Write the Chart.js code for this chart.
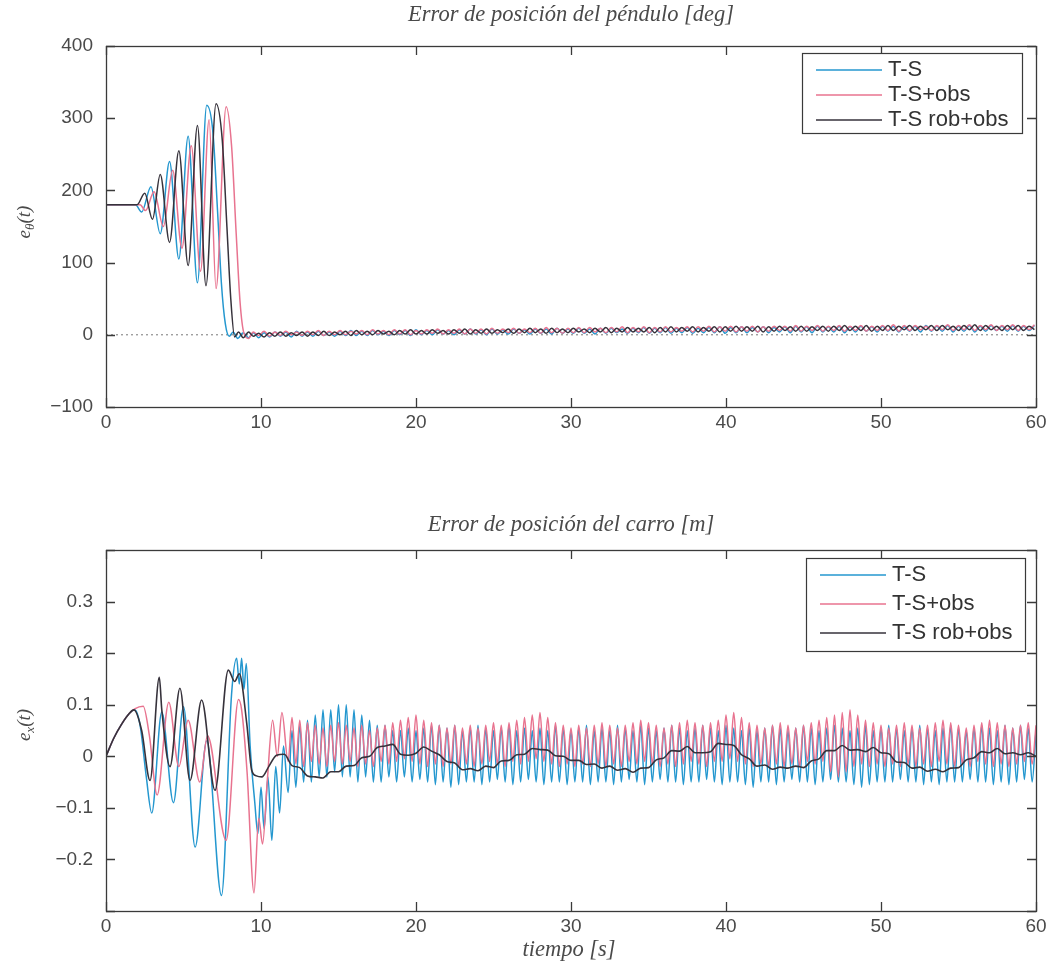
<!DOCTYPE html>
<html>
<head>
<meta charset="utf-8">
<script src="https://cdn.jsdelivr.net/npm/chart.js@4.4.1/dist/chart.umd.min.js"></script>
<style>
  html, body { margin: 0; padding: 0; background: #fff; }
  #wrap { position: relative; width: 1052px; height: 971px; overflow: hidden; }
  canvas { position: absolute; left: 0; }
  #pend { top: 0; }
  #cart { top: 480px; }
</style>
</head>
<body>
<div id="wrap">
  <canvas id="pend" width="1052" height="470"></canvas>
  <canvas id="cart" width="1052" height="491"></canvas>
</div>
<script>
// ---- datos ----
const seriesNames = ['T-S', 'T-S+obs', 'T-S rob+obs'];
const xTicks = [0, 10, 20, 30, 40, 50, 60];
const thetaTicks = [-100, 0, 100, 200, 300, 400];
const cartTicks = [-0.3, -0.2, -0.1, 0, 0.1, 0.2, 0.3, 0.4];

// error del pendulo [deg], tramo de levantamiento
const tsThetaTime = [0, 1.9, 2.3, 2.9, 3.5, 4.1, 4.7, 5.3, 5.9, 6.5, 6.9, 7.2, 7.45, 7.7, 7.95, 8.2, 8.5, 8.85, 9.2, 9.5];
const tsTheta = [180, 180, 170, 205, 140, 240, 105, 275, 72, 318, 280, 170, 70, 15, -2, 4, -5, 3, -4, 3];
const obsThetaTime = [0, 2.2, 2.55, 3.1, 3.7, 4.3, 4.9, 5.5, 6.1, 6.65, 7.1, 7.75, 8.1, 8.4, 8.65, 8.9, 9.2, 9.5];
const obsTheta = [180, 180, 172, 198, 150, 228, 120, 262, 88, 298, 64, 316, 262, 140, 45, 2, -5, 4];
const robThetaTime = [0, 2.0, 2.5, 3.0, 3.5, 4.1, 4.7, 5.3, 5.9, 6.45, 7.1, 7.5, 7.8, 8.05, 8.3, 8.55, 8.85, 9.2, 9.5];
const robTheta = [180, 180, 196, 160, 222, 128, 255, 96, 290, 68, 320, 270, 150, 50, -3, 4, -4, 4, -2];

// error del pendulo, regimen permanente (muestras cada 0.35 s desde 9.85 s)
const tsThetaTail = [
  -4, 3, -3, 4, -2, 4, -3, 5, -2, 4,
  -2, 5, -1, 4, -2, 5, -1, 6, -1, 5,
  -1, 6, 0, 5, -1, 6, 0, 6, -1, 7,
  0, 6, 0, 7, 1, 6, 0, 7, 1, 8,
  1, 7, 0, 8, 1, 7, 1, 8, 2, 7,
  1, 8, 2, 8, 1, 9, 2, 8, 2, 9,
  2, 8, 1, 9, 2, 9, 3, 8, 2, 9,
  3, 10, 2, 9, 3, 10, 2, 9, 3, 10,
  2, 9, 3, 10, 3, 11, 2, 10, 3, 11,
  3, 10, 4, 11, 3, 10, 4, 11, 3, 12,
  4, 11, 3, 12, 4, 11, 4, 12, 3, 11,
  4, 12, 5, 11, 4, 12, 5, 12, 4, 11,
  5, 12, 4, 13, 5, 12, 5, 13, 4, 12,
  5, 13, 4, 12, 5, 13, 6, 12, 5, 13,
  5, 12, 6, 13
];
const obsThetaTail = [
  -1, 5, -2, 4, -1, 5, 0, 4, -1, 5,
  0, 6, -1, 5, 0, 6, 0, 5, 1, 6,
  0, 7, 1, 6, 0, 7, 1, 7, 0, 6,
  1, 7, 2, 8, 1, 7, 2, 8, 1, 8,
  2, 8, 1, 9, 2, 8, 3, 9, 2, 8,
  3, 9, 2, 10, 3, 9, 2, 9, 3, 10,
  3, 10, 4, 9, 3, 10, 4, 11, 3, 10,
  4, 11, 3, 10, 4, 11, 4, 10, 5, 11,
  4, 11, 5, 12, 4, 11, 5, 12, 4, 11,
  5, 12, 4, 11, 5, 12, 6, 12, 5, 13,
  5, 12, 6, 13, 5, 12, 6, 13, 5, 12,
  6, 13, 5, 12, 6, 13, 6, 14, 5, 13,
  6, 13, 7, 12, 6, 13, 7, 14, 6, 13,
  7, 14, 6, 13, 7, 14, 6, 13, 7, 14,
  6, 13, 7, 14
];
const robThetaTail = [
  2, -3, 3, -2, 4, -2, 3, -1, 4, -2,
  4, -1, 5, -1, 4, 0, 5, -1, 6, 0,
  5, 0, 6, 1, 5, 0, 6, 1, 7, 1,
  6, 1, 7, 2, 6, 1, 7, 2, 8, 1,
  7, 2, 8, 2, 7, 3, 8, 2, 8, 3,
  9, 3, 8, 2, 9, 3, 8, 3, 9, 4,
  8, 3, 9, 4, 10, 3, 9, 4, 10, 4,
  9, 4, 10, 3, 10, 4, 11, 4, 10, 5,
  11, 4, 10, 5, 11, 4, 11, 5, 12, 5,
  11, 5, 12, 4, 11, 5, 12, 6, 11, 5,
  12, 5, 11, 6, 12, 5, 12, 6, 13, 6,
  12, 6, 13, 5, 12, 6, 13, 6, 12, 7,
  13, 6, 12, 7, 13, 6, 13, 7, 12, 6,
  13, 7, 14, 6, 13, 7, 12, 6, 13, 7,
  13, 6, 12, 7
];

// error del carro [m], transitorio
const tsCartTime = [0, 0.5, 1.0, 1.5, 1.85, 2.2, 2.6, 2.95, 3.6, 4.35, 5.0, 5.75, 6.5, 7.45, 8.1, 8.43, 8.6, 8.75, 8.9, 9.05, 9.3, 9.6, 9.8, 10.0, 10.2, 10.45, 10.7, 10.95, 11.2, 11.45];
const tsCart = [0, 0.035, 0.062, 0.083, 0.09, 0.06, -0.04, -0.11, 0.086, -0.09, 0.096, -0.176, 0.03, -0.27, 0.12, 0.19, 0.14, 0.19, 0.13, 0.18, 0.02, -0.09, -0.15, -0.06, -0.14, -0.04, -0.163, -0.02, -0.11, 0.02];
const obsCartTime = [0, 0.5, 1.0, 1.5, 1.85, 2.4, 2.8, 3.3, 4.05, 4.7, 5.3, 6.05, 6.55, 7.75, 8.55, 8.75, 9.1, 9.55, 9.85, 10.1, 10.4, 10.75, 11.05, 11.35];
const obsCart = [0, 0.035, 0.062, 0.083, 0.092, 0.097, 0.04, -0.075, 0.105, -0.02, 0.07, -0.05, 0.04, -0.163, 0.11, 0.09, -0.03, -0.265, -0.12, -0.17, -0.05, 0.07, 0.0, 0.085];
const robCartTime = [0, 0.5, 1.0, 1.5, 1.8, 2.3, 2.84, 3.44, 3.6, 4.13, 4.77, 5.42, 6.17, 7.03, 7.89, 8.3, 8.6, 9.08, 9.4, 9.7, 10.05, 10.5, 11.0];
const robCart = [0, 0.035, 0.062, 0.083, 0.09, 0.05, -0.047, 0.153, 0.09, -0.02, 0.132, -0.047, 0.109, -0.066, 0.167, 0.145, 0.16, 0.064, -0.027, -0.038, -0.04, -0.02, 0.002];

// error del carro, regimen permanente (cada 0.25 s desde 11.75 s)
const tsCartTail = [
  -0.07, 0.05, -0.06, 0.06, -0.05, 0.07, -0.05, 0.08, -0.04, 0.09, -0.04, 0.09, -0.03, 0.1, -0.04, 0.1,
  -0.04, 0.09, -0.05, 0.08, -0.04, 0.07, -0.05, 0.06, -0.05, 0.06, -0.04, 0.05, -0.05, 0.05, -0.04, 0.055,
  -0.05, 0.05, -0.045, 0.055, -0.05, 0.06, -0.055, 0.06, -0.05, 0.055, -0.06, 0.06, -0.055, 0.05, -0.05, 0.055,
  -0.05, 0.06, -0.055, 0.055, -0.05, 0.05, -0.045, 0.055, -0.05, 0.06, -0.055, 0.05, -0.05, 0.055, -0.045, 0.05,
  -0.05, 0.055, -0.055, 0.05, -0.05, 0.06, -0.05, 0.055, -0.055, 0.05, -0.05, 0.055, -0.05, 0.06, -0.055, 0.05,
  -0.05, 0.055, -0.05, 0.05, -0.055, 0.06, -0.05, 0.055, -0.045, 0.05, -0.05, 0.06, -0.055, 0.055, -0.05, 0.05,
  -0.045, 0.055, -0.05, 0.06, -0.05, 0.055, -0.055, 0.05, -0.05, 0.055, -0.05, 0.06, -0.045, 0.055, -0.05, 0.05,
  -0.055, 0.06, -0.05, 0.055, -0.05, 0.05, -0.055, 0.055, -0.06, 0.05, -0.05, 0.055, -0.05, 0.06, -0.055, 0.055,
  -0.05, 0.05, -0.045, 0.055, -0.05, 0.06, -0.05, 0.055, -0.055, 0.05, -0.05, 0.055, -0.045, 0.06, -0.05, 0.055,
  -0.05, 0.05, -0.055, 0.055, -0.06, 0.06, -0.055, 0.05, -0.05, 0.055, -0.05, 0.06, -0.05, 0.055, -0.045, 0.05,
  -0.05, 0.055, -0.05, 0.06, -0.055, 0.055, -0.05, 0.05, -0.055, 0.055, -0.05, 0.06, -0.05, 0.055, -0.05, 0.05,
  -0.045, 0.055, -0.05, 0.06, -0.05, 0.055, -0.055, 0.05, -0.05, 0.06, -0.055, 0.055, -0.05, 0.06, -0.045, 0.055,
  -0.05, 0.05
];
const obsCartTail = [
  -0.01, 0.075, -0.015, 0.07, -0.02, 0.065, -0.01, 0.06, -0.015, 0.055, -0.02, 0.06, -0.01, 0.065, -0.015, 0.06,
  -0.01, 0.055, -0.02, 0.06, -0.015, 0.05, -0.02, 0.055, -0.01, 0.06, -0.015, 0.065, -0.01, 0.07, -0.005, 0.075,
  -0.01, 0.08, -0.015, 0.07, -0.02, 0.065, -0.015, 0.06, -0.02, 0.055, -0.015, 0.06, -0.02, 0.055, -0.015, 0.06,
  -0.02, 0.055, -0.015, 0.06, -0.01, 0.065, -0.015, 0.06, -0.02, 0.065, -0.01, 0.07, -0.015, 0.075, -0.01, 0.08,
  -0.005, 0.085, -0.01, 0.075, -0.015, 0.065, -0.02, 0.06, -0.015, 0.055, -0.02, 0.06, -0.015, 0.055, -0.02, 0.06,
  -0.015, 0.065, -0.02, 0.06, -0.015, 0.055, -0.02, 0.06, -0.01, 0.065, -0.015, 0.07, -0.01, 0.065, -0.015, 0.06,
  -0.02, 0.055, -0.015, 0.06, -0.02, 0.065, -0.015, 0.07, -0.01, 0.065, -0.015, 0.06, -0.02, 0.065, -0.01, 0.07,
  -0.01, 0.08, -0.005, 0.085, -0.01, 0.075, -0.015, 0.065, -0.02, 0.06, -0.015, 0.055, -0.02, 0.06, -0.015, 0.065,
  -0.02, 0.06, -0.015, 0.055, -0.02, 0.06, -0.01, 0.065, -0.015, 0.07, -0.01, 0.075, -0.03, 0.08, -0.04, 0.085,
  -0.03, 0.09, -0.02, 0.08, -0.015, 0.07, -0.02, 0.065, -0.015, 0.06, -0.02, 0.055, -0.015, 0.06, -0.02, 0.065,
  -0.015, 0.06, -0.02, 0.055, -0.015, 0.06, -0.02, 0.065, -0.01, 0.07, -0.015, 0.065, -0.02, 0.06, -0.015, 0.055,
  -0.02, 0.06, -0.01, 0.065, -0.015, 0.07, -0.02, 0.065, -0.015, 0.06, -0.02, 0.055, -0.015, 0.06, -0.01, 0.065,
  -0.015, 0.06
];
// rob+obs, cada 0.5 s desde 11.5 s (con el rizado pequeño de la curva)
const robCartTail = [
  0.004, -0.018, -0.022, -0.038, -0.04, -0.042, -0.03, -0.03, -0.019, -0.018, -0.003, 0.0, 0.017, 0.02, 0.023, 0.004, 0.002, 0.006,
  0.018, 0.01, 0.003, -0.01, -0.013, -0.026, -0.024, -0.028, -0.019, -0.022, -0.009, -0.008, 0.003, 0.004, 0.015, 0.013, 0.012, 0.001, 0.0, -0.008,
  -0.008, -0.016, -0.015, -0.023, -0.019, -0.027, -0.024, -0.031, -0.023, -0.022, -0.007, -0.003, 0.011, 0.01, 0.019, 0.007, 0.007, 0.009, 0.025, 0.023,
  0.021, 0.003, -0.005, -0.019, -0.017, -0.025, -0.021, -0.023, -0.019, -0.022, -0.009, -0.005, 0.011, 0.011, 0.021, 0.012, 0.013, 0.009, 0.017, 0.007,
  0.005, -0.011, -0.012, -0.023, -0.021, -0.029, -0.025, -0.03, -0.023, -0.022, -0.007, -0.003, 0.009, 0.007, 0.015, 0.005, 0.007, 0.003, 0.007, 0.0
];

// ---- estilo ----
const colTS = '#2497cf';
const colObs = '#e8738f';
const colRob = '#36323b';
const axisColor = '#3a3a3a';
const textColor = '#4a4a4a';
const sansFont = '"Liberation Sans", Arial, Helvetica, sans-serif';
const serifFont = '"Liberation Serif", "DejaVu Serif", Times, serif';

function timeGrid(start, step, n) {
  return Array.from({ length: n }, (_, i) => +(start + i * step).toFixed(3));
}
function pairs(times, values) {
  return times.map((t, i) => ({ x: t, y: values[i] }));
}

const thetaTailTime = timeGrid(9.85, 0.35, tsThetaTail.length);
const cartTailTime = timeGrid(11.75, 0.25, tsCartTail.length);
const robCartTailTime = timeGrid(11.5, 0.5, robCartTail.length);

function fmtTick(v) {
  const r = Math.round(v * 10) / 10;
  return r < 0 ? '\u2212' + String(-r) : String(r);
}

function line(label, color, data, width) {
  return {
    label: label,
    data: data,
    borderColor: color,
    backgroundColor: color,
    borderWidth: width || 1.5,
    pointRadius: 0,
    fill: false,
    cubicInterpolationMode: 'monotone'
  };
}

// marco estilo MATLAB con marcas hacia dentro, titulos y leyenda
function framePlugin(cfg) {
  return {
    id: 'matlabFrame',
    afterDatasetsDraw(chart) {
      const { ctx, chartArea: a, scales: { x, y } } = chart;
      ctx.save();
      ctx.strokeStyle = axisColor;
      ctx.lineWidth = 1.3;
      ctx.beginPath();
      x.ticks.forEach(t => {
        const px = Math.round(x.getPixelForValue(t.value)) + 0.5;
        ctx.moveTo(px, a.bottom); ctx.lineTo(px, a.bottom - 9);
        ctx.moveTo(px, a.top); ctx.lineTo(px, a.top + 9);
      });
      y.ticks.forEach(t => {
        const py = Math.round(y.getPixelForValue(t.value)) + 0.5;
        ctx.moveTo(a.left, py); ctx.lineTo(a.left + 9, py);
        ctx.moveTo(a.right, py); ctx.lineTo(a.right - 9, py);
      });
      ctx.stroke();
      ctx.strokeRect(a.left + 0.5, a.top + 0.5, a.right - a.left, a.bottom - a.top);

      // titulo
      ctx.fillStyle = textColor;
      ctx.textAlign = 'center';
      ctx.textBaseline = 'middle';
      ctx.font = 'italic 22.5px ' + serifFont;
      ctx.fillText(cfg.title, (a.left + a.right) / 2, cfg.titleY);
      if (cfg.xLabel) ctx.fillText(cfg.xLabel, (a.left + a.right) / 2 - 2, cfg.xLabelY);

      // etiqueta eje y con subindice
      ctx.translate(cfg.yLabelX, cfg.yLabelY);
      ctx.rotate(-Math.PI / 2);
      ctx.textAlign = 'left';
      ctx.textBaseline = 'alphabetic';
      ctx.font = 'italic 19px ' + serifFont;
      const w1 = ctx.measureText('e').width;
      const w3 = ctx.measureText('(t)').width;
      ctx.font = 'italic 13px ' + serifFont;
      const w2 = ctx.measureText(cfg.ySub).width;
      let cx = -(w1 + w2 + w3) / 2;
      ctx.font = 'italic 19px ' + serifFont;
      ctx.fillText('e', cx, 6); cx += w1;
      ctx.font = 'italic 13px ' + serifFont;
      ctx.fillText(cfg.ySub, cx, 10); cx += w2;
      ctx.font = 'italic 19px ' + serifFont;
      ctx.fillText('(t)', cx, 6);
      ctx.setTransform(1, 0, 0, 1, 0, 0);

      // leyenda
      const L = cfg.legend;
      ctx.fillStyle = '#fff';
      ctx.fillRect(L.x, L.y, L.w, L.h);
      ctx.strokeStyle = axisColor;
      ctx.lineWidth = 1.2;
      ctx.strokeRect(L.x + 0.5, L.y + 0.5, L.w, L.h);
      ctx.font = '22px ' + sansFont;
      ctx.textBaseline = 'middle';
      ctx.textAlign = 'left';
      seriesNames.forEach((name, i) => {
        const ry = L.y + L.first + i * L.gap;
        ctx.strokeStyle = [colTS, colObs, colRob][i];
        ctx.lineWidth = 1.6;
        ctx.beginPath();
        ctx.moveTo(L.x + 14, ry); ctx.lineTo(L.x + 80, ry);
        ctx.stroke();
        ctx.fillStyle = '#333';
        ctx.fillText(name, L.x + 86, ry);
      });
      ctx.restore();
    }
  };
}

function baseOptions(yMin, yMax, yStep, xHeight, padTop, hideEnds) {
  return {
    responsive: false,
    animation: false,
    devicePixelRatio: 1,
    layout: { padding: { top: padTop, right: 16, left: 0, bottom: 0 } },
    plugins: { legend: { display: false }, tooltip: { enabled: false } },
    scales: {
      x: {
        type: 'linear', min: 0, max: 60,
        afterFit(s) { s.height = xHeight; },
        afterBuildTicks(s) { s.ticks = xTicks.map(v => ({ value: v })); },
        grid: { display: false, drawTicks: false },
        border: { display: false },
        ticks: { padding: 4, color: textColor, font: { family: sansFont, size: 19 }, maxRotation: 0,
                 callback: v => fmtTick(v) }
      },
      y: {
        type: 'linear', min: yMin, max: yMax,
        afterFit(s) { s.width = 106; },
        ticks: { stepSize: yStep, padding: 13, color: textColor, font: { family: sansFont, size: 19 },
                 callback: v => (hideEnds && (Math.abs(v - yMin) < 1e-6 || Math.abs(v - yMax) < 1e-6)) ? '' : fmtTick(v) },
        grid: { display: false, drawTicks: false },
        border: { display: false }
      }
    }
  };
}

// ---- grafico superior: pendulo ----
const pendOpts = baseOptions(-100, 400, 100, 63, 46, false);
pendOpts.scales.y.afterBuildTicks = s => { s.ticks = thetaTicks.map(v => ({ value: v })); };
new Chart(document.getElementById('pend'), {
  type: 'line',
  data: {
    datasets: [
      line(seriesNames[2], colRob, pairs(robThetaTime.concat(thetaTailTime), robTheta.concat(robThetaTail))),
      line(seriesNames[1], colObs, pairs(obsThetaTime.concat(thetaTailTime), obsTheta.concat(obsThetaTail))),
      line(seriesNames[0], colTS, pairs(tsThetaTime.concat(thetaTailTime), tsTheta.concat(tsThetaTail))),
      { label: 'ref', data: [{ x: 0, y: 0 }, { x: 60, y: 0 }], borderColor: '#777', borderWidth: 1,
        borderDash: [2, 3], pointRadius: 0 }
    ]
  },
  options: pendOpts,
  plugins: [framePlugin({
    title: 'Error de posición del péndulo [deg]', titleY: 15,
    ySub: 'θ', yLabelX: 24, yLabelY: 222,
    legend: { x: 802, y: 53, w: 220, h: 80, first: 17, gap: 25 }
  })]
});

// ---- grafico inferior: carro ----
const cartOpts = baseOptions(-0.3, 0.4, 0.1, 60, 70, true);
cartOpts.scales.y.afterBuildTicks = s => { s.ticks = cartTicks.map(v => ({ value: v })); };
new Chart(document.getElementById('cart'), {
  type: 'line',
  data: {
    datasets: [
      line(seriesNames[2], colRob, pairs(robCartTime.concat(robCartTailTime), robCart.concat(robCartTail)), 1.6),
      line(seriesNames[1], colObs, pairs(obsCartTime.concat(cartTailTime), obsCart.concat(obsCartTail))),
      line(seriesNames[0], colTS, pairs(tsCartTime.concat(cartTailTime), tsCart.concat(tsCartTail)))
    ]
  },
  options: cartOpts,
  plugins: [framePlugin({
    title: 'Error de posición del carro [m]', titleY: 45,
    xLabel: 'tiempo [s]', xLabelY: 470,
    ySub: 'x', yLabelX: 24, yLabelY: 245,
    legend: { x: 806, y: 78, w: 219, h: 93, first: 17, gap: 29 }
  })]
});
</script>
</body>
</html>
